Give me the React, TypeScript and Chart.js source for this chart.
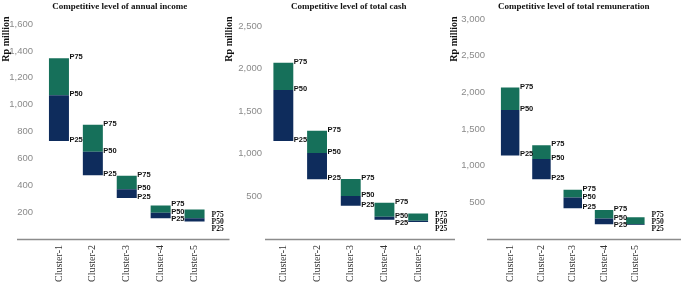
import React, { useEffect, useRef } from "react";
import { Chart, registerables } from "chart.js";

Chart.register(...registerables);

const categories = ["Cluster-1", "Cluster-2", "Cluster-3", "Cluster-4", "Cluster-5"];

const incomeP25 = [730, 475, 305, 155, 130];
const incomeP50 = [1070, 650, 370, 195, 155];
const incomeP75 = [1345, 850, 470, 250, 220];

const cashP25 = [1150, 700, 390, 225, 200];
const cashP50 = [1750, 1010, 505, 260, 215];
const cashP75 = [2070, 1270, 705, 425, 300];

const remunP25 = [1140, 815, 420, 200, 190];
const remunP50 = [1760, 1090, 565, 280, 200];
const remunP75 = [2065, 1280, 670, 395, 295];

const NAVY = "#0e2c5c";
const GREEN = "#16705a";

type PanelCfg = {
  title: string;
  p25: number[];
  p50: number[];
  p75: number[];
  max: number;
  step: number;
  left: number;
  width: number;
  yWidth: number;
  tickPad: number;
  padRight: number;
  padTop: number;
  titleDx: number;
  lineL: number;
  lineR: number;
  rpX: number;
  rpY: number;
};

const panels: PanelCfg[] = [
  {
    title: "Competitive level of annual income",
    p25: incomeP25, p50: incomeP50, p75: incomeP75,
    max: 1600, step: 200,
    left: 0, width: 232, yWidth: 42, tickPad: 9, padRight: 20.5, padTop: 24,
    titleDx: -7, lineL: 25, lineR: 18, rpX: 6, rpY: 39,
  },
  {
    title: "Competitive level of total cash",
    p25: cashP25, p50: cashP50, p75: cashP75,
    max: 2500, step: 500,
    left: 222, width: 238, yWidth: 44.5, tickPad: 4.5, padRight: 25, padTop: 26,
    titleDx: -2, lineL: 1.5, lineR: 20, rpX: 7, rpY: 39,
  },
  {
    title: "Competitive level of total remuneration",
    p25: remunP25, p50: remunP50, p75: remunP75,
    max: 3000, step: 500,
    left: 448, width: 234, yWidth: 46.5, tickPad: 9.5, padRight: 31, padTop: 19,
    titleDx: 1, lineL: 7.5, lineR: 30, rpX: 6, rpY: 39,
  },
];

function makePlugin(cfg: PanelCfg) {
  return {
    id: "decor",
    afterDraw(chart: any) {
      const ctx = chart.ctx;
      const area = chart.chartArea;
      const ys = chart.scales.y;
      const zero = ys.getPixelForValue(0);
      ctx.save();
      // axis line
      ctx.strokeStyle = "#8c8c8c";
      ctx.lineWidth = 1.5;
      ctx.beginPath();
      ctx.moveTo(area.left - cfg.lineL, zero + 0.5);
      ctx.lineTo(area.right + cfg.lineR, zero + 0.5);
      ctx.stroke();
      // title
      ctx.fillStyle = "#111";
      ctx.font = "bold 9px 'Liberation Serif'";
      ctx.textAlign = "center";
      ctx.textBaseline = "middle";
      ctx.fillText(cfg.title, (area.left + area.right) / 2 + cfg.titleDx, 6.5);
      // y axis title
      ctx.save();
      ctx.font = "bold 10px 'Liberation Serif'";
      ctx.translate(cfg.rpX, cfg.rpY);
      ctx.rotate(-Math.PI / 2);
      ctx.fillText("Rp million", 0, 0);
      ctx.restore();
      // percentile labels
      const meta = chart.getDatasetMeta(0);
      ctx.textAlign = "left";
      const n = categories.length;
      for (let i = 0; i < n; i++) {
        const bar = meta.data[i];
        const right = bar.x + bar.width / 2;
        if (i < n - 1) {
          const i50 = ys.getPixelForValue(cfg.p50[i]);
          const i75 = ys.getPixelForValue(cfg.p75[i]);
          const i25 = ys.getPixelForValue(cfg.p25[i]);
          const y50 = i50 - 1;
          const y75 = Math.min(i75 - 1, y50 - 7.5);
          const y25 = Math.max(i25 - 1, y50 + 7.5);
          ctx.font = "bold 7.5px 'Liberation Sans'";
          ctx.fillText("P75", right + 0.5, y75);
          ctx.fillText("P50", right + 0.5, y50);
          ctx.fillText("P25", right + 0.5, y25);
        } else {
          ctx.font = "bold 7.5px 'Liberation Serif'";
          ctx.fillText("P75", right + 7, zero - 24);
          ctx.fillText("P50", right + 7, zero - 17);
          ctx.fillText("P25", right + 7, zero - 10);
        }
      }
      ctx.restore();
    },
  };
}

function Panel({ cfg }: { cfg: PanelCfg }) {
  const ref = useRef<HTMLCanvasElement>(null);
  useEffect(() => {
    const chart = new Chart(ref.current as HTMLCanvasElement, {
      type: "bar",
      data: {
        labels: categories,
        datasets: [
          {
            label: "P25–P50",
            data: categories.map((_, i) => [cfg.p25[i], cfg.p50[i]]) as any,
            backgroundColor: NAVY,
            grouped: false,
            barPercentage: 0.59,
            categoryPercentage: 1,
          } as any,
          {
            label: "P50–P75",
            data: categories.map((_, i) => [cfg.p50[i], cfg.p75[i]]) as any,
            backgroundColor: GREEN,
            grouped: false,
            barPercentage: 0.59,
            categoryPercentage: 1,
          } as any,
        ],
      },
      options: {
        animation: false,
        responsive: false,
        layout: { padding: { left: 0, right: cfg.padRight, top: cfg.padTop, bottom: 0 } },
        plugins: {
          legend: { display: false },
          tooltip: { enabled: false },
          title: { display: false },
        },
        scales: {
          x: {
            grid: { display: false, drawTicks: false },
            border: { display: false },
            ticks: {
              autoSkip: false,
              minRotation: 90,
              maxRotation: 90,
              padding: 6,
              color: "#333",
              font: { family: "'Liberation Serif'", size: 10 },
            },
            afterFit: (s: any) => {
              s.height = 45;
            },
          },
          y: {
            min: 0,
            max: cfg.max,
            grid: { display: false, drawTicks: false },
            border: { display: false },
            ticks: {
              stepSize: cfg.step,
              padding: cfg.tickPad,
              color: "#8a8a8a",
              font: { family: "'Liberation Sans'", size: 9.5 },
              callback: (v: any) => (Number(v) === 0 ? "" : Number(v).toLocaleString("en-US")),
            },
            afterFit: (s: any) => {
              s.width = cfg.yWidth;
            },
          },
        },
      } as any,
      plugins: [makePlugin(cfg)],
    });
    return () => chart.destroy();
  }, []);
  return (
    <canvas
      ref={ref}
      width={cfg.width}
      height={284}
      style={{ position: "absolute", left: cfg.left, top: 0, width: cfg.width, height: 284 }}
    />
  );
}

export default function App() {
  return (
    <div style={{ position: "absolute", left: 0, top: 0, width: 682, height: 284, background: "#fff", overflow: "hidden" }}>
      {panels.map((p, i) => (
        <Panel key={i} cfg={p} />
      ))}
    </div>
  );
}
